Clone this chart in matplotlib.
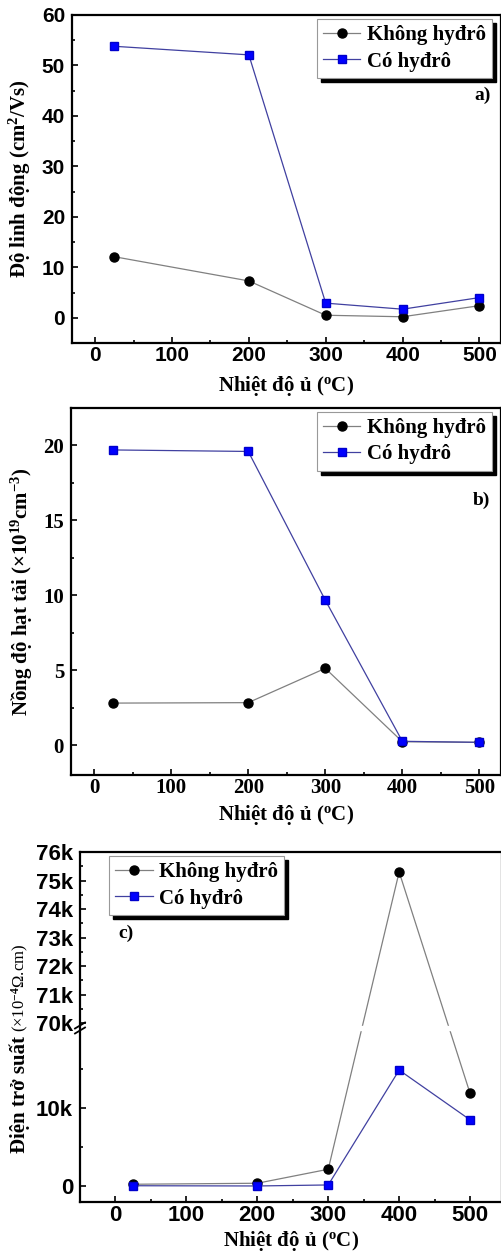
import matplotlib
matplotlib.use('Agg')
import numpy as np
import matplotlib.pyplot as plt
from matplotlib.ticker import MultipleLocator, FuncFormatter, FixedLocator
from matplotlib.lines import Line2D
from matplotlib.patches import Rectangle

# annealing temperature (C)
temp = [25, 200, 300, 400, 500]
series_names = ['Không hyđrô', 'Có hyđrô']

# a) mobility (cm2/Vs)
mob_no_h = [12.1, 7.3, 0.5, 0.2, 2.4]
mob_h = [53.8, 52.1, 2.9, 1.7, 4.0]

# b) carrier concentration (x1e19 cm-3)
conc_no_h = [2.8, 2.83, 5.12, 0.22, 0.18]
conc_h = [19.7, 19.6, 9.67, 0.25, 0.18]

# c) resistivity (x1e-4 Ohm.cm)
res_no_h = [220, 350, 2150, 75300, 11900]
res_h = [30, 0, 130, 14900, 8500]

plt.rcParams['font.family'] = 'Liberation Serif'
plt.rcParams['font.weight'] = 'bold'
plt.rcParams['axes.labelweight'] = 'bold'
plt.rcParams['mathtext.fontset'] = 'custom'
plt.rcParams['mathtext.rm'] = 'Liberation Serif:bold'
plt.rcParams['mathtext.it'] = 'Liberation Serif:bold'
plt.rcParams['mathtext.bf'] = 'Liberation Serif:bold'
plt.rcParams['mathtext.sf'] = 'Liberation Serif'

W, H = 502, 1251
fig = plt.figure(figsize=(W / 100, H / 100), dpi=100)


def box(l, t, r, b):
  return [l / W, 1 - b / H, (r - l) / W, (b - t) / H]


def draw(ax, y1, y2):
  ax.plot(temp, y1, '-', color='#808080', lw=0.9, marker='o', ms=6.5,
          mfc='black', mec='black', label=series_names[0])
  ax.plot(temp, y2, '-', color='#4040a0', lw=0.9, marker='s', ms=6,
          mfc='#0000ff', mec='#0000cc', label=series_names[1])


def style(ax, sans=True, size=15):
  for s in ax.spines.values():
    s.set_linewidth(1.6)
  ax.tick_params(which='both', direction='in', width=1.2)
  ax.tick_params(which='major', length=4.5, labelsize=size)
  ax.tick_params(which='minor', length=2.5)
  ax.tick_params(axis='x', pad=2)
  ax.tick_params(axis='y', pad=5)
  if sans:
    ax.tick_params(labelfontfamily='Liberation Sans')


legends = []


def legend(ax, loc, anchor):
  leg = ax.legend(loc=loc, bbox_to_anchor=anchor, fontsize=15,
                  fancybox=False, edgecolor='#999999', framealpha=1,
                  borderpad=0.3, handlelength=1.8, handletextpad=0.3,
                  labelspacing=0.3, borderaxespad=0)
  leg.get_frame().set_linewidth(0.8)
  legends.append((ax, leg))
  return leg


xlabel = r'Nhiệt độ ủ ($^{o}$C)'

# ---- panel a
ax = fig.add_axes(box(72, 15, 501, 343))
draw(ax, mob_no_h, mob_h)
ax.set_xlim(-30, 528)
ax.set_ylim(-5, 60)
ax.xaxis.set_major_locator(MultipleLocator(100))
ax.xaxis.set_minor_locator(MultipleLocator(50))
ax.yaxis.set_major_locator(MultipleLocator(10))
ax.yaxis.set_minor_locator(MultipleLocator(5))
style(ax)
ax.set_xlabel(xlabel, fontsize=15, labelpad=7)
ax.set_ylabel(r'Độ linh động (cm$^{2}$/Vs)', fontsize=15, labelpad=6)
legend(ax, 'upper right', (1 - 9 / 429, 1 - 4 / 328))
ax.text(0.975, 0.756, 'a)', transform=ax.transAxes, ha='right', va='center',
        fontsize=14)

# ---- panel b
ax = fig.add_axes(box(71, 408, 501, 775))
draw(ax, conc_no_h, conc_h)
ax.set_xlim(-30, 528)
ax.set_ylim(-2, 22.5)
ax.xaxis.set_major_locator(MultipleLocator(100))
ax.xaxis.set_minor_locator(MultipleLocator(50))
ax.yaxis.set_major_locator(MultipleLocator(5))
ax.yaxis.set_minor_locator(MultipleLocator(2.5))
style(ax, sans=False, size=15)
ax.set_xlabel(xlabel, fontsize=15, labelpad=4)
ax.set_ylabel(r'Nồng độ hạt tải (×10$^{19}$cm$^{-3}$)', fontsize=15, labelpad=6)
legend(ax, 'upper right', (1 - 9 / 430, 1 - 4 / 367))
ax.text(0.975, 0.749, 'b)', transform=ax.transAxes, ha='right', va='center',
        fontsize=14)

# ---- panel c (broken y axis: 20k .. 69.9k squeezed into a small gap)
lo_top, hi_bot, gap, k = 20000.0, 69900.0, 566.0, 3.668


def fwd(y):
  y = np.asarray(y, dtype=float)
  mid = lo_top + (y - lo_top) / (hi_bot - lo_top) * gap
  up = lo_top + gap + (y - hi_bot) * k
  return np.where(y <= lo_top, y, np.where(y <= hi_bot, mid, up))


def inv(u):
  u = np.asarray(u, dtype=float)
  mid = lo_top + (u - lo_top) / gap * (hi_bot - lo_top)
  up = hi_bot + (u - lo_top - gap) / k
  return np.where(u <= lo_top, u, np.where(u <= lo_top + gap, mid, up))


ax = fig.add_axes(box(80, 852, 502, 1202.3))
draw(ax, res_no_h, res_h)
ax.set_yscale('function', functions=(fwd, inv))
ax.set_xlim(-50, 545)
ax.set_ylim(-2100, 76000)
ax.xaxis.set_major_locator(MultipleLocator(100))
ax.xaxis.set_minor_locator(MultipleLocator(50))
ax.yaxis.set_major_locator(FixedLocator([0, 10000] + list(range(70000, 76001, 1000))))
ax.yaxis.set_minor_locator(FixedLocator([5000, 15000] + list(range(70500, 76000, 1000))))
ax.yaxis.set_major_formatter(FuncFormatter(
    lambda v, p: '0' if v == 0 else '%dk' % round(v / 1000)))
style(ax, size=16)
ax.set_xlabel(xlabel, fontsize=15, labelpad=2)
# white band cutting the lines at the break
ax.axhspan(lo_top + 60, hi_bot - 2000, color='white', zorder=2.2)
legend(ax, 'upper left', (29 / 422, 1 - 4 / 350))
ax.text(0.09, 0.769, 'c)', transform=ax.transAxes, ha='left', va='center',
        fontsize=14)

# break marks on the left spine
xb = 80 / W
for dy in (-2.5, 2.5):
  yb = 1 - (1028 + dy) / H
  fig.add_artist(Line2D([xb - 5 / W, xb + 5 / W], [yb - 3 / H, yb + 3 / H],
                        color='black', lw=1.3))

fig.canvas.draw()
r = fig.canvas.get_renderer()

# black drop shadows behind the legends
for a, leg in legends:
  bb = leg.get_window_extent(r)
  a.add_patch(Rectangle((bb.x0 + 4, bb.y0 - 4), bb.width, bb.height,
                        transform=None, color='black', zorder=4.9,
                        clip_on=False))

# y label: bold part + regular part in parentheses
t1 = fig.text(20 / W, 1 - 1153 / H, 'Điện trở suất', rotation=90,
              ha='center', va='bottom', fontsize=15, fontweight='bold')
bb = t1.get_window_extent(r)
fig.text(20 / W, (bb.y1 + 4) / H, '(×10$^{\\mathsf{-4}}$Ω.cm)', rotation=90,
         ha='center', va='bottom', fontsize=12, fontweight='normal')

fig.savefig('out.png', dpi=100)
